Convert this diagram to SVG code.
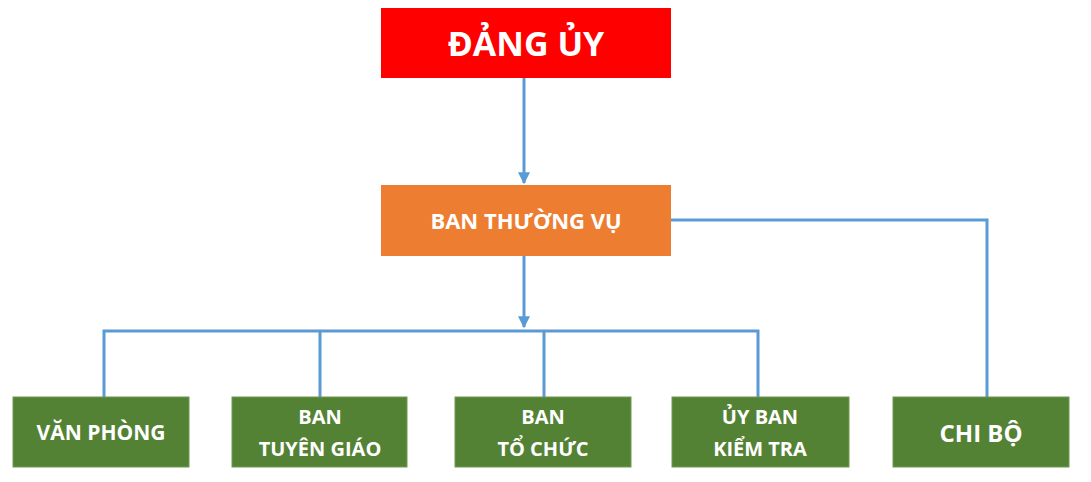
<svg xmlns="http://www.w3.org/2000/svg" width="1091" height="482" viewBox="0 0 1091 482">
<defs>
<style>
.t{font-family:"Open Sans","Liberation Sans",sans-serif;font-weight:bold;fill:#fff;text-anchor:middle}
.g{fill:#548235;stroke:#6f9a4f;stroke-width:1}
.c{fill:none;stroke:#5b9bd5;stroke-width:3}
</style>
<marker id="a" viewBox="0 0 10 10" refX="9" refY="5" markerWidth="4" markerHeight="4" orient="auto"><path d="M0,0L10,5L0,10z" fill="#5b9bd5"/></marker>
</defs>
<rect width="1091" height="482" fill="#fff"/>
<g id="connectors">
<path class="c" d="M524,78V183" marker-end="url(#a)"/>
<path class="c" d="M524,256V327" marker-end="url(#a)"/>
<path class="c" d="M104,397V331H758V397M320,331V397M544,331V397"/>
<path class="c" d="M671,220H987V397"/>
</g>
<g id="dangUy"><rect x="381" y="8" width="290" height="70" fill="#ff0000"/><text class="t" x="526" y="56" font-size="34">ĐẢNG ỦY</text></g>
<g id="banThuongVu"><rect x="381" y="185" width="290" height="71" fill="#ed7d31"/><text class="t" x="526" y="229" font-size="22">BAN THƯỜNG VỤ</text></g>
<g id="vanPhong"><rect class="g" x="13" y="397" width="176" height="70"/><text class="t" x="101" y="440" font-size="21">VĂN PHÒNG</text></g>
<g id="tuyenGiao"><rect class="g" x="232" y="397" width="175" height="70"/><text class="t" x="320" y="424" font-size="20">BAN</text><text class="t" x="320" y="456" font-size="20">TUYÊN GIÁO</text></g>
<g id="toChuc"><rect class="g" x="455" y="397" width="176" height="70"/><text class="t" x="543" y="424" font-size="20">BAN</text><text class="t" x="543" y="456" font-size="20">TỔ CHỨC</text></g>
<g id="kiemTra"><rect class="g" x="672" y="397" width="177" height="70"/><text class="t" x="760" y="424" font-size="20">ỦY BAN</text><text class="t" x="760" y="456" font-size="20">KIỂM TRA</text></g>
<g id="chiBo"><rect class="g" x="893" y="397" width="176" height="70"/><text class="t" x="981" y="442" font-size="24">CHI BỘ</text></g>
</svg>
